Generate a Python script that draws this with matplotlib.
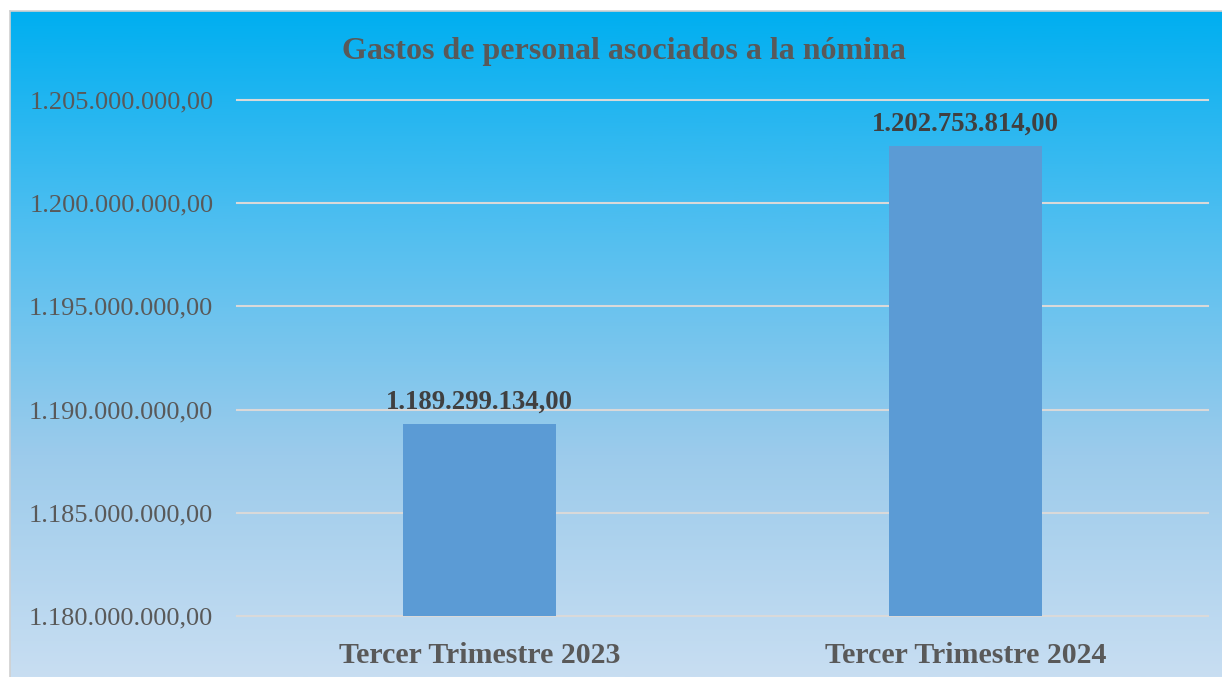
import numpy as np
import matplotlib.pyplot as plt
from matplotlib.colors import LinearSegmentedColormap
from matplotlib.ticker import FuncFormatter

categories = ["Tercer Trimestre 2023", "Tercer Trimestre 2024"]
values = [1189299134.00, 1202753814.00]
title = "Gastos de personal asociados a la nómina"


def es_fmt(v):
    s = f"{v:,.2f}"
    return s.replace(",", "X").replace(".", ",").replace("X", ".")


plt.rcParams['font.family'] = ['Liberation Serif', 'DejaVu Serif']

fig = plt.figure(figsize=(12.22, 6.77), dpi=100)
W, H = 1222, 677

# gradient background panel (runs off the right and bottom edges)
bg = fig.add_axes([10 / W, 0, 1 - 10 / W, 1 - 11 / H])
cmap = LinearSegmentedColormap.from_list(
    "bg", ["#00aff0", "#52bff0", "#9ccbeb", "#c8def2"])
grad = np.linspace(0, 1, 256).reshape(-1, 1)
bg.imshow(grad, aspect="auto", cmap=cmap, extent=[0, 1, 0, 1], origin="upper")
bg.set_xticks([])
bg.set_yticks([])
for name, sp in bg.spines.items():
    if name in ("right", "bottom"):
        sp.set_visible(False)
    sp.set_color("#d0d0d0")
    sp.set_linewidth(1.2)

ax = fig.add_axes([237 / W, 1 - 616 / H, (1208 - 237) / W, (616 - 100) / H])
ax.patch.set_alpha(0)
x = np.arange(len(categories))
bars = ax.bar(x, values, width=0.315, color="#5b9bd5", zorder=3)
ax.set_xlim(-0.5, 1.5)
ax.set_ylim(1180000000, 1205000000)
ax.set_yticks(np.arange(1180000000, 1205000001, 5000000))
ax.yaxis.set_major_formatter(FuncFormatter(lambda v, p: es_fmt(v)))
ax.grid(axis="y", color="#d9d9d9", linewidth=1.5, zorder=1)
for gl in ax.get_ygridlines():
    gl.set_clip_on(False)
ax.set_xticks(x)
ax.set_xticklabels(categories, fontsize=21.5, fontweight="bold", color="#595959")
ax.tick_params(axis="y", labelsize=19, labelcolor="#595959", length=0, pad=17)
ax.tick_params(axis="x", length=0, pad=19)
for sp in ax.spines.values():
    sp.set_visible(False)

for xi, v in zip(x, values):
    ax.annotate(es_fmt(v), (xi, v), xytext=(0, 7), textcoords="offset points",
                ha="center", va="bottom", fontsize=19.3, fontweight="bold",
                color="#404040", zorder=4)

fig.text(624 / W, 1 - 51 / H, title, ha="center", va="center",
         fontsize=23, fontweight="bold", color="#595959")

fig.savefig("out.png", dpi=100)
